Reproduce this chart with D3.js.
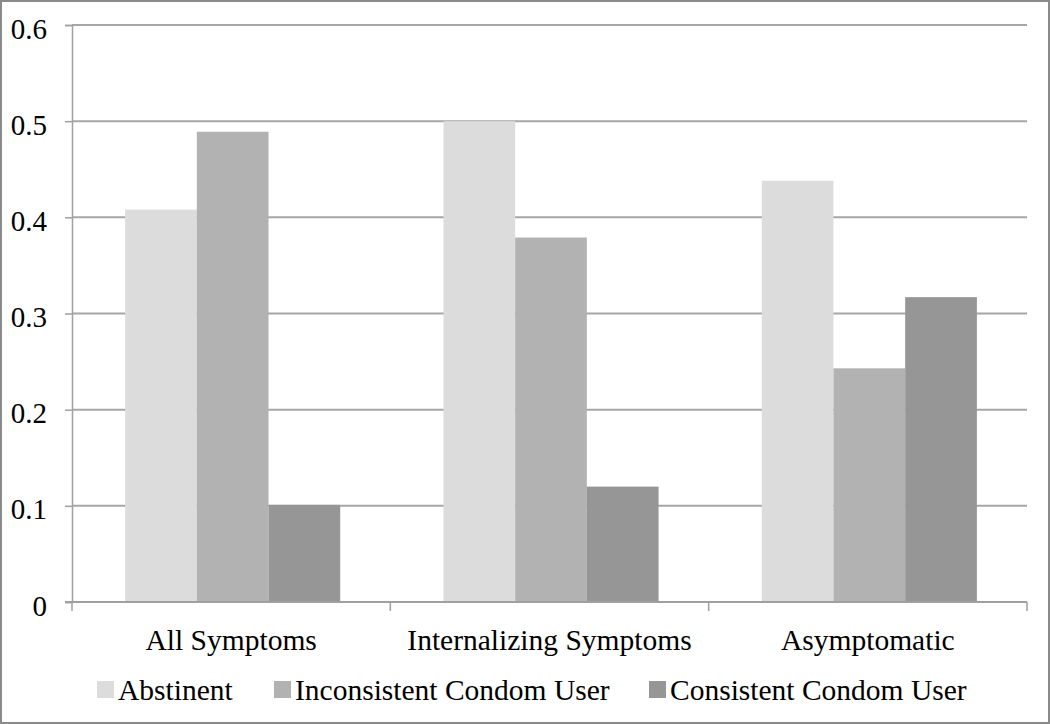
<!DOCTYPE html>
<html>
<head>
<meta charset="utf-8">
<script src="https://cdn.jsdelivr.net/npm/d3@7"></script>
<style>
  body { margin: 0; background: #fff; }
  text { font-family: "Liberation Serif", "Times New Roman", serif; fill: #000; }
</style>
</head>
<body>
<div id="chart"></div>
<script>
const categories = ["All Symptoms", "Internalizing Symptoms", "Asymptomatic"];
const seriesNames = ["Abstinent", "Inconsistent Condom User", "Consistent Condom User"];
const abstinent = [0.408, 0.500, 0.438];
const inconsistent = [0.489, 0.379, 0.243];
const consistent = [0.101, 0.120, 0.317];
const yTicks = [0, 0.1, 0.2, 0.3, 0.4, 0.5, 0.6];
const tickLabels = ["0", "0.1", "0.2", "0.3", "0.4", "0.5", "0.6"];

const colors = ["#dcdcdc", "#b2b2b2", "#969696"];
const values = [abstinent, inconsistent, consistent];

const width = 1050, height = 724;
const margin = { top: 25, right: 23, bottom: 122, left: 72 };

const svg = d3.select("#chart").append("svg")
    .attr("width", width)
    .attr("height", height);

// outer frame
svg.append("rect")
    .attr("x", 1).attr("y", 1)
    .attr("width", width - 2).attr("height", height - 2)
    .attr("fill", "#fff")
    .attr("stroke", "#8a8a8a")
    .attr("stroke-width", 2);

const x0 = d3.scaleBand()
    .domain(categories)
    .range([margin.left, width - margin.right])
    .padding(0);

const x1 = d3.scaleBand()
    .domain(seriesNames)
    .range([0, x0.bandwidth()])
    .paddingInner(0)
    .paddingOuter(0.72);

const y = d3.scaleLinear()
    .domain([0, 0.6])
    .range([height - margin.bottom, margin.top]);

// gridlines
svg.append("g")
  .selectAll("line")
  .data(yTicks.filter(d => d > 0))
  .join("line")
    .attr("x1", margin.left)
    .attr("x2", width - margin.right)
    .attr("y1", d => y(d))
    .attr("y2", d => y(d))
    .attr("stroke", "#a6a6a6")
    .attr("stroke-width", 2);

// bars
const data = categories.map((c, i) => ({
  cat: c,
  vals: seriesNames.map((s, j) => ({ s: s, v: values[j][i], col: colors[j] }))
}));

svg.append("g")
  .selectAll("g")
  .data(data)
  .join("g")
    .attr("transform", d => `translate(${x0(d.cat)},0)`)
  .selectAll("rect")
  .data(d => d.vals)
  .join("rect")
    .attr("x", d => x1(d.s) + 1.5)
    .attr("width", x1.bandwidth())
    .attr("y", d => y(d.v))
    .attr("height", d => y(0) - y(d.v))
    .attr("fill", d => d.col);

// y axis
const yAxis = d3.axisLeft(y)
    .tickValues(yTicks)
    .tickFormat((d, i) => tickLabels[i])
    .tickSize(7)
    .tickPadding(18);

const gy = svg.append("g")
    .attr("transform", `translate(${margin.left},0)`)
    .call(yAxis);
gy.select(".domain").attr("stroke", "#a0a0a0").attr("stroke-width", 1.5);
gy.selectAll(".tick line").attr("stroke", "#a0a0a0").attr("stroke-width", 1.5);
gy.selectAll(".tick text")
    .attr("font-size", 29)
    .attr("dy", "0.45em")
    .style("font-family", "'Liberation Serif', serif");

// x axis
const gx = svg.append("g")
    .attr("transform", `translate(0,${y(0)})`);
gx.append("line")
    .attr("x1", margin.left - 7)
    .attr("x2", width - margin.right)
    .attr("stroke", "#a0a0a0")
    .attr("stroke-width", 2);
const bounds = categories.map(c => x0(c)).concat([x0.range()[1]]);
gx.selectAll("line.tk")
  .data(bounds)
  .join("line")
    .attr("class", "tk")
    .attr("x1", d => d).attr("x2", d => d)
    .attr("y1", 0).attr("y2", 9)
    .attr("stroke", "#a0a0a0")
    .attr("stroke-width", 1.5);
gx.selectAll("text")
  .data(categories)
  .join("text")
    .attr("x", d => x0(d) + x0.bandwidth() / 2)
    .attr("y", 48)
    .attr("text-anchor", "middle")
    .attr("font-size", 29.5)
    .text(d => d);

// legend
const legendX = [97, 274, 649];
const legend = svg.append("g")
  .selectAll("g")
  .data(seriesNames)
  .join("g")
    .attr("transform", (d, i) => `translate(${legendX[i]},681)`);
legend.append("rect")
    .attr("width", 17)
    .attr("height", 17)
    .attr("fill", (d, i) => colors[i]);
legend.append("text")
    .attr("x", 21)
    .attr("y", 19)
    .attr("font-size", 29.5)
    .text(d => d);
</script>
</body>
</html>
